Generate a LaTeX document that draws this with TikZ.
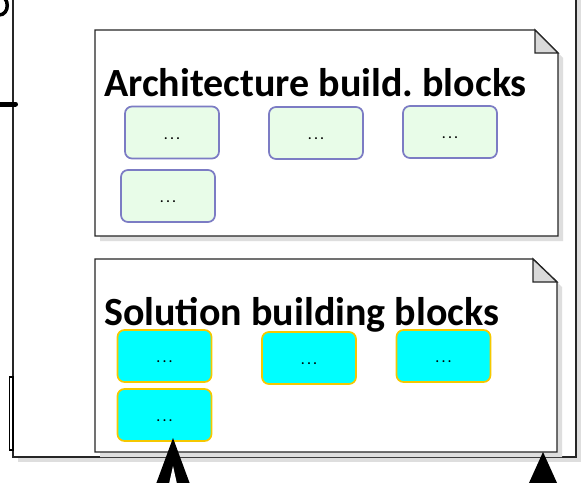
\documentclass[tikz,border=0pt]{standalone}
\usepackage{fontspec}
\setmainfont{Carlito}
\frenchspacing
\definecolor{archfill}{HTML}{E8FCE8}
\definecolor{archline}{HTML}{7C7CC4}
\definecolor{solfill}{HTML}{00FFFF}
\definecolor{solline}{HTML}{F5C800}
\definecolor{shadowgray}{HTML}{DEDEDE}
\definecolor{foldgray}{HTML}{D9D9D9}
\newcommand{\blockdots}{.\kern2.6pt.\kern2.6pt.}
\begin{document}
\begin{tikzpicture}[x=1pt,y=-1pt,
  frameline/.style={draw=black!85, line width=1.3pt},
  shadowbox/.style={fill=shadowgray},
  blockbase/.style={rounded corners=7pt, line width=1.7pt, minimum width=94pt, minimum height=52pt,
     inner sep=0pt, text height=13pt, text depth=0pt, font=\fontsize{13}{13}\selectfont\bfseries},
  archblock/.style={blockbase, draw=archline, fill=archfill},
  solblock/.style={blockbase, draw=solline, fill=solfill},
  titletext/.style={anchor=base west, inner sep=0pt, font=\fontsize{40}{44}\selectfont\bfseries},
  tipfill/.style={fill=black}
]
\useasboundingbox (0,0) rectangle (583,482);
\begin{scope}
\clip (0,0) rectangle (583,482);
% outer container
\fill[shadowbox] (18,-10) rectangle (581,462);
\draw[frameline, fill=white] (13,-10) rectangle (576,457);
% partial glyph top left
\draw[line width=3.5pt] (-1,-4) .. controls (10,-4) and (10,15) .. (-1,15);
% left stub
\draw[line width=5pt, line cap=round] (-6,104) -- (15.5,104);
% small bracket left
\draw[line width=1.2pt, fill=white] (9.5,377) rectangle (13,450);

% Architecture note
\fill[shadowbox] (100,35) -- (540,35) -- (563,58) -- (563,241) -- (100,241) -- cycle;
\draw[frameline, fill=white] (95,30) -- (535,30) -- (558,53) -- (558,236) -- (95,236) -- cycle;
\draw[frameline, fill=foldgray, line join=miter] (535,30) -- (535,53) -- (558,53) -- cycle;
\node[titletext] (archtitle) at (104,96) {Architecture build. blocks};
\node[archblock] (a1) at (172,132.5) {\blockdots};
\node[archblock] (a2) at (316,133) {\blockdots};
\node[archblock] (a3) at (450,132) {\blockdots};
\node[archblock] (a4) at (168,196) {\blockdots};

% Solution note
\fill[shadowbox] (100,264) -- (538,264) -- (562,287) -- (562,457) -- (100,457) -- cycle;
\draw[frameline, fill=white] (95,259) -- (533,259) -- (557,282) -- (557,452) -- (95,452) -- cycle;
\draw[frameline, fill=foldgray, line join=miter] (533,259) -- (533,282) -- (557,282) -- cycle;
\node[titletext] (soltitle) at (104,325) {Solution building blocks};
\node[solblock] (s1) at (164.5,356) {\blockdots};
\node[solblock] (s2) at (309,358) {\blockdots};
\node[solblock] (s3) at (443.5,356) {\blockdots};
\node[solblock] (s4) at (164.5,415) {\blockdots};

% arrow heads coming from below
\coordinate (t1) at (173,438);
\coordinate (t2) at (543,452);
\fill[tipfill] (t1) -- ++(-17,46) -- ++(34,0) -- cycle;
\fill[white] (t1) ++(0,28) -- ++(-4,18) -- ++(8,0) -- cycle;
\fill[tipfill] (t2) -- ++(-14.5,32) -- ++(29,0) -- cycle;
\end{scope}
\end{tikzpicture}
\end{document}
